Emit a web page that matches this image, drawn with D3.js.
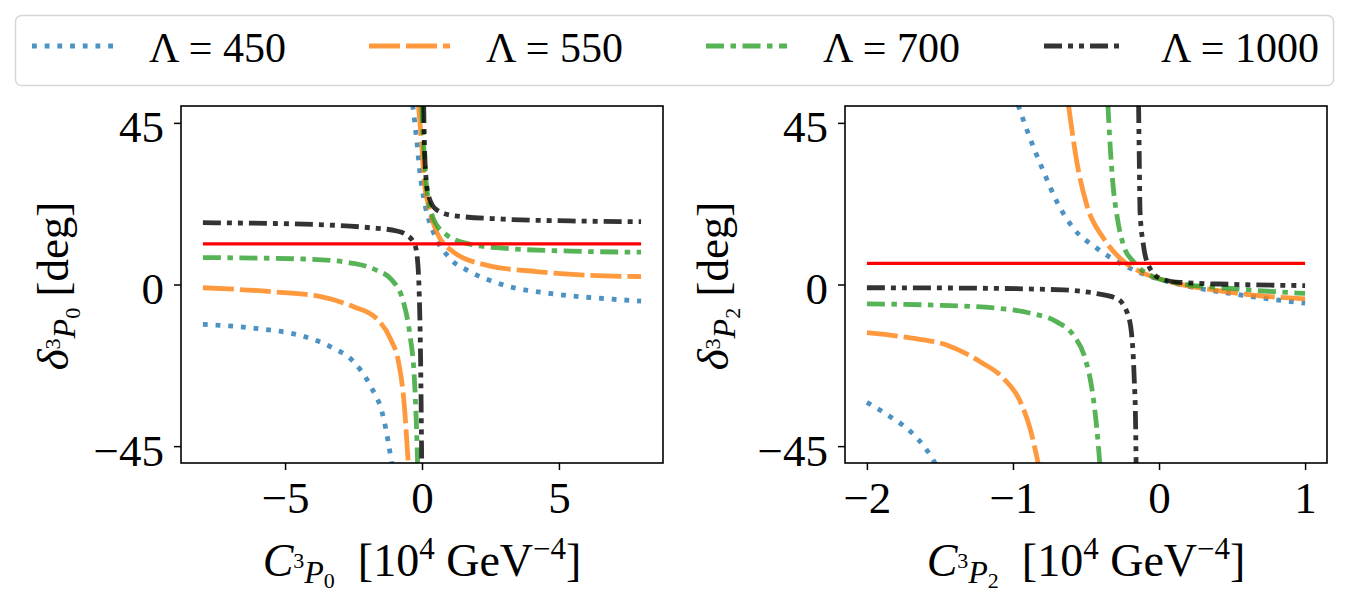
<!DOCTYPE html>
<html>
<head>
<meta charset="utf-8">
<script src="https://cdn.jsdelivr.net/npm/d3@7"></script>
<style>
  body { margin: 0; background: #fff; }
  svg { display: block; }
  text { font-family: "Liberation Serif", "DejaVu Serif", serif; fill: #000; }
</style>
</head>
<body>
<div id="chart"></div>
<script>
  // Cutoff values, one curve per value in each panel.
  const lambdas = [450, 550, 700, 1000];

  // Tick values.
  const xTicksP0 = [-5, 0, 5];
  const xTicksP2 = [-2, -1, 0, 1];
  const yTicks = [-45, 0, 45];

  // Horizontal reference (red) lines, [xStart, xEnd, y].
  const refP0 = [-8, 8, 11.3];
  const refP2 = [-2, 1, 5.9];

  // 3P0 panel, each curve split into the branch left and right of the pole.
  const p0_450a = [[-8, -11.1], [-6.1, -12.2], [-4.3, -14.5], [-3.35, -17.3], [-2.5, -21.5], [-1.9, -28], [-1.4, -37.3], [-1.1, -50]];
  const p0_450b = [[-0.34, 50], [-0.2, 40.7], [-0.08, 31.4], [0.11, 22.2], [0.41, 14.7], [1.02, 7.3], [1.75, 3.6], [2.96, -0.1], [4.78, -2.6], [6.6, -3.9], [8, -4.6]];
  const p0_550a = [[-8, -0.9], [-5.5, -2.0], [-3.7, -3.4], [-2.5, -6.2], [-1.67, -9.4], [-1.16, -15.0], [-0.86, -21.5], [-0.68, -30.8], [-0.5, -50]];
  const p0_550b = [[-0.13, 50], [-0.01, 38.9], [0.07, 29.6], [0.23, 22.2], [0.53, 14.7], [1.14, 9.1], [2.35, 5.4], [4.17, 3.6], [6.0, 2.6], [8, 2.2]];
  const p0_700a = [[-8, 7.5], [-4.3, 7.1], [-2.5, 5.9], [-1.67, 4.0], [-1.1, 1.25], [-0.68, -4.8], [-0.44, -14.1], [-0.28, -26], [-0.2, -40], [-0.16, -50]];
  const p0_700b = [[-0.01, 50], [0.06, 38.9], [0.15, 28.6], [0.41, 18.4], [0.9, 13.8], [1.75, 11.2], [2.96, 10.1], [5.4, 9.3], [8, 9.0]];
  const p0_1000a = [[-8, 17.2], [-4.3, 16.8], [-1.9, 15.8], [-0.92, 14.9], [-0.56, 13.8], [-0.26, 11.0], [-0.17, 7.3], [-0.1, -2.9], [-0.05, -21.5], [-0.01, -50]];
  const p0_1000b = [[0.06, 50], [0.11, 34.2], [0.23, 24.9], [0.53, 20.8], [1.14, 19.2], [2.96, 18.2], [5.4, 17.7], [8, 17.5]];

  // 3P2 panel.
  const p2_450a = [[-2, -32.8], [-1.84, -36.8], [-1.7, -41.0], [-1.59, -46.1], [-1.53, -50]];
  const p2_450b = [[-0.965, 50], [-0.883, 40.7], [-0.79, 31.4], [-0.7, 23.1], [-0.587, 15.7], [-0.426, 10.1], [-0.267, 5.9], [-0.084, 2.6], [0.144, 0.0], [0.49, -2.5], [1, -5.2]];
  const p2_550a = [[-2, -13.4], [-1.68, -15.0], [-1.45, -16.9], [-1.225, -21.5], [-1.066, -26.1], [-0.95, -32.6], [-0.883, -40.1], [-0.826, -50]];
  const p2_550b = [[-0.62, 50], [-0.563, 34.2], [-0.495, 22.2], [-0.38, 12.9], [-0.267, 7.3], [-0.13, 3.6], [0.03, 1.25], [0.37, -1.5], [0.71, -3.2], [1, -4.0]];
  const p2_700a = [[-2, -5.4], [-1.57, -5.7], [-1.11, -6.6], [-0.88, -8.0], [-0.7, -10.4], [-0.587, -14.1], [-0.506, -20.6], [-0.46, -28.9], [-0.426, -40.1], [-0.405, -50]];
  const p2_700b = [[-0.35, 50], [-0.335, 38.9], [-0.317, 28.6], [-0.285, 18.4], [-0.244, 11.0], [-0.176, 6.4], [-0.062, 2.6], [0.144, 0.3], [0.49, -1.1], [1, -2.5]];
  const p2_1000a = [[-2, -0.9], [-1.34, -1.0], [-0.655, -1.5], [-0.43, -2.5], [-0.29, -3.9], [-0.22, -7.6], [-0.187, -14.1], [-0.17, -26.1], [-0.16, -40], [-0.157, -50]];
  const p2_1000b = [[-0.14, 50], [-0.135, 34.2], [-0.13, 20.3], [-0.107, 11.0], [-0.073, 5.4], [0.007, 1.7], [0.144, 0.6], [0.49, 0.05], [1, -0.3]];

  // Line styles per lambda (matplotlib tab10 with alpha 0.8).
  const styles = {
    450:  { color: '#1f77b4', dash: '4.8,7.9' },
    550:  { color: '#ff7f0e', dash: '31,6' },
    700:  { color: '#2ca02c', dash: '18,6.5,5.5,6.5' },
    1000: { color: '#000000', dash: '18,6,5,6,5,6' }
  };

  const W = 1350, H = 601;
  const svg = d3.select('#chart').append('svg')
    .attr('width', W)
    .attr('height', H);

  // Append a run of tspans; shift is the baseline offset from the main baseline.
  function richText(text, parts) {
    let prev = 0;
    parts.forEach(function (p) {
      text.append('tspan')
        .attr('font-size', p[1])
        .attr('font-style', p[2] ? 'italic' : 'normal')
        .attr('dy', p[3] - prev)
        .text(p[0]);
      prev = p[3];
    });
    return text;
  }

  function subscriptParts(sub) {
    return [['3', 22, false, -8], ['P', 32, true, 7], [sub, 22, false, 12]];
  }

  function minus(d) { return d < 0 ? '\u2212' + Math.abs(d) : d; }

  function panel(cfg) {
    const x = d3.scaleLinear().domain(cfg.xDomain).range([cfg.left, cfg.right]);
    const y = d3.scaleLinear().domain([-49.7, 49.7]).range([463, 106]);
    const g = svg.append('g');

    g.append('clipPath').attr('id', cfg.id)
      .append('rect')
      .attr('x', cfg.left).attr('y', 106)
      .attr('width', cfg.right - cfg.left).attr('height', 463 - 106);

    const plot = g.append('g').attr('clip-path', 'url(#' + cfg.id + ')');

    const line = d3.line()
      .x(function (d) { return x(d[0]); })
      .y(function (d) { return y(d[1]); })
      .curve(d3.curveMonotoneX);

    lambdas.forEach(function (lam) {
      cfg.curves[lam].forEach(function (branch) {
        plot.append('path')
          .datum(branch)
          .attr('fill', 'none')
          .attr('stroke', styles[lam].color)
          .attr('stroke-opacity', 0.8)
          .attr('stroke-width', 4.8)
          .attr('stroke-dasharray', styles[lam].dash)
          .attr('d', line);
      });
    });

    // Red reference line on top.
    plot.append('line')
      .attr('x1', x(cfg.ref[0])).attr('x2', x(cfg.ref[1]))
      .attr('y1', y(cfg.ref[2])).attr('y2', y(cfg.ref[2]))
      .attr('stroke', '#ff0000')
      .attr('stroke-width', 3.2);

    // Axes.
    const xAxis = g.append('g')
      .attr('transform', 'translate(0,463)')
      .call(d3.axisBottom(x).tickValues(cfg.xTicks).tickSize(7).tickPadding(11).tickFormat(minus));
    const yAxis = g.append('g')
      .attr('transform', 'translate(' + cfg.left + ',0)')
      .call(d3.axisLeft(y).tickValues(yTicks).tickSize(7).tickPadding(10).tickFormat(minus));

    [xAxis, yAxis].forEach(function (a) {
      a.select('.domain').remove();
      a.selectAll('.tick line').attr('stroke', '#000').attr('stroke-width', 1.5);
      a.selectAll('.tick text')
        .attr('font-family', '"Liberation Serif", serif')
        .attr('font-size', 45)
        .attr('fill', '#000');
    });
    xAxis.selectAll('.tick text').attr('dy', '0.72em');
    yAxis.selectAll('.tick text').attr('dy', '0.42em');

    // Frame.
    g.append('rect')
      .attr('x', cfg.left).attr('y', 106)
      .attr('width', cfg.right - cfg.left).attr('height', 463 - 106)
      .attr('fill', 'none')
      .attr('stroke', '#000')
      .attr('stroke-width', 1.6);

    // Axis labels.
    const xl = g.append('text')
      .attr('x', (cfg.left + cfg.right) / 2)
      .attr('y', 576)
      .attr('text-anchor', 'middle');
    richText(xl, [['C', 46, true, 0]].concat(subscriptParts(cfg.sub), [
      ['\u2002[10', 46, false, 0], ['4', 31, false, -17], [' GeV', 46, false, 0],
      ['\u22124', 31, false, -17], [']', 46, false, 0]
    ]));

    const yl = g.append('text')
      .attr('transform', 'translate(' + cfg.yLabelX + ',286) rotate(-90)')
      .attr('text-anchor', 'middle');
    richText(yl, [['\u03b4', 45, true, 0]].concat(subscriptParts(cfg.sub), [
      [' [deg]', 45, false, 0]
    ]));
  }

  panel({
    id: 'clipP0', left: 181, right: 663, xDomain: [-8.8, 8.8], xTicks: xTicksP0,
    ref: refP0, sub: '0', yLabelX: 68,
    curves: { 450: [p0_450a, p0_450b], 550: [p0_550a, p0_550b], 700: [p0_700a, p0_700b], 1000: [p0_1000a, p0_1000b] }
  });

  panel({
    id: 'clipP2', left: 845, right: 1327, xDomain: [-2.15, 1.15], xTicks: xTicksP2,
    ref: refP2, sub: '2', yLabelX: 728,
    curves: { 450: [p2_450a, p2_450b], 550: [p2_550a, p2_550b], 700: [p2_700a, p2_700b], 1000: [p2_1000a, p2_1000b] }
  });

  // Legend across the top.
  const legend = svg.append('g');
  legend.append('rect')
    .attr('x', 15.5).attr('y', 15.5)
    .attr('width', 1318).attr('height', 70)
    .attr('rx', 6)
    .attr('fill', '#fff')
    .attr('stroke', '#d6d6d6')
    .attr('stroke-width', 1.5);

  const legendX = [32, 369, 706, 1044];
  lambdas.forEach(function (lam, i) {
    legend.append('line')
      .attr('x1', legendX[i]).attr('x2', legendX[i] + 81)
      .attr('y1', 46).attr('y2', 46)
      .attr('stroke', styles[lam].color)
      .attr('stroke-opacity', 0.8)
      .attr('stroke-width', 4.8)
      .attr('stroke-dasharray', styles[lam].dash);
    legend.append('text')
      .attr('x', legendX[i] + 117)
      .attr('y', 62)
      .attr('font-size', 42)
      .text('\u039b = ' + lam);
  });
</script>
</body>
</html>
